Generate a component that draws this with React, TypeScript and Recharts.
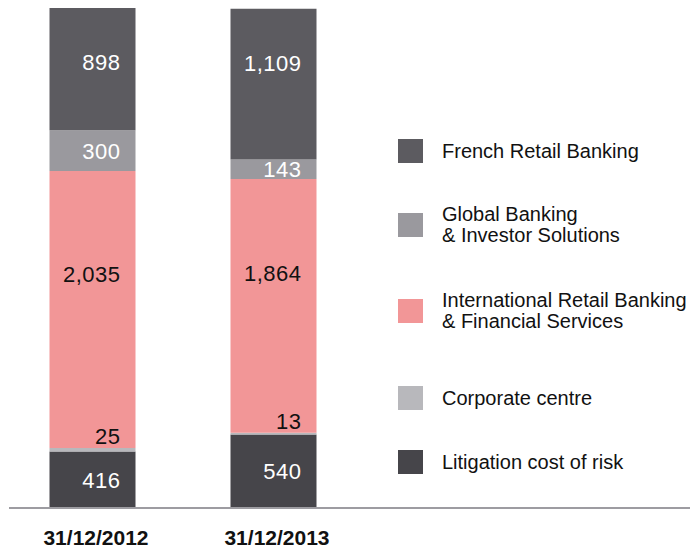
import { BarChart, Bar, XAxis, YAxis, LabelList } from "recharts";

const CATEGORIES = ["31/12/2012", "31/12/2013"];
const FRENCH_RETAIL = [898, 1109];
const GLOBAL_BANKING = [300, 143];
const INTL_RETAIL = [2035, 1864];
const CORPORATE = [25, 13];
const LITIGATION = [416, 540];

// stack order, bottom first
const SERIES = [
  { key: "litigation", name: "Litigation cost of risk", color: "#46454a" },
  { key: "corporate", name: "Corporate centre", color: "#b8b8bc" },
  { key: "intl", name: "International Retail Banking\n& Financial Services", color: "#f29697" },
  { key: "global", name: "Global Banking\n& Investor Solutions", color: "#9a999e" },
  { key: "french", name: "French Retail Banking", color: "#5c5b60" },
];

const FONT = '"Liberation Sans", Arial, Helvetica, sans-serif';

const data = CATEGORIES.map((date, i) => ({
  date,
  french: FRENCH_RETAIL[i],
  global: GLOBAL_BANKING[i],
  intl: INTL_RETAIL[i],
  corporate: CORPORATE[i],
  litigation: LITIGATION[i],
}));

type Place = "center" | "top" | "ratio" | "below";

function valueLabel(place: Place, fill: string) {
  return (props: any) => {
    const x = Number(props.x);
    const top = Number(props.y);
    const w = Number(props.width);
    const h = Number(props.height);
    let cy = top + h / 2;
    if (place === "top") cy = top + 54;
    else if (place === "ratio") cy = top + h * 0.37;
    else if (place === "below") cy = top + h - 12;
    return (
      <text
        x={x + w - 15}
        y={cy + 8}
        textAnchor="end"
        fill={fill}
        fontSize={22}
        fontFamily={FONT}
        letterSpacing={0.5}
      >
        {Number(props.value).toLocaleString("en-US")}
      </text>
    );
  };
}

function DateTick(props: any) {
  const { x, y, payload } = props;
  return (
    <text x={x + 4} y={y + 37} textAnchor="middle" fill="#111" fontSize={21} fontWeight="bold" fontFamily={FONT}>
      {payload.value}
    </text>
  );
}

// legend rows, top to bottom (centre y of each row)
const LEGEND_CENTERS = [151, 225, 311, 398, 462];

export default function App() {
  const legendItems = [...SERIES].reverse();
  return (
    <div style={{ position: "fixed", left: 0, top: 0, width: 690, height: 549, background: "#fff" }}>
      <BarChart
        width={690}
        height={549}
        data={data}
        margin={{ top: 8, right: 0, bottom: 0, left: 9 }}
        barSize={86}
      >
        <XAxis
          dataKey="date"
          axisLine={{ stroke: "#9d9ca1", strokeWidth: 2 }}
          tickLine={false}
          tickSize={0}
          tickMargin={0}
          height={41}
          interval={0}
          padding={{ left: -7.5, right: 326.5 }}
          tick={<DateTick />}
        />
        <YAxis hide domain={[0, "dataMax"]} />
        <Bar dataKey="litigation" stackId="a" fill={SERIES[0].color} isAnimationActive={false}>
          <LabelList dataKey="litigation" content={valueLabel("center", "#fff")} />
        </Bar>
        <Bar dataKey="corporate" stackId="a" fill={SERIES[1].color} isAnimationActive={false} />
        <Bar dataKey="intl" stackId="a" fill={SERIES[2].color} isAnimationActive={false}>
          <LabelList dataKey="intl" content={valueLabel("ratio", "#111")} />
          {/* corporate centre is too thin for its own label, so it sits just above it */}
          <LabelList dataKey="corporate" content={valueLabel("below", "#111")} />
        </Bar>
        <Bar dataKey="global" stackId="a" fill={SERIES[3].color} isAnimationActive={false}>
          <LabelList dataKey="global" content={valueLabel("center", "#fff")} />
        </Bar>
        <Bar dataKey="french" stackId="a" fill={SERIES[4].color} isAnimationActive={false}>
          <LabelList dataKey="french" content={valueLabel("top", "#fff")} />
        </Bar>
      </BarChart>

      {legendItems.map((s, i) => (
        <div
          key={s.key}
          style={{
            position: "absolute",
            left: 398,
            top: LEGEND_CENTERS[i],
            transform: "translateY(-50%)",
            display: "flex",
            alignItems: "center",
            fontFamily: FONT,
            fontSize: 20,
            lineHeight: "21px",
            color: "#111",
          }}
        >
          <span style={{ width: 25, height: 24, background: s.color, marginRight: 19, flexShrink: 0 }} />
          <span style={{ whiteSpace: "pre" }}>{s.name}</span>
        </div>
      ))}
    </div>
  );
}
